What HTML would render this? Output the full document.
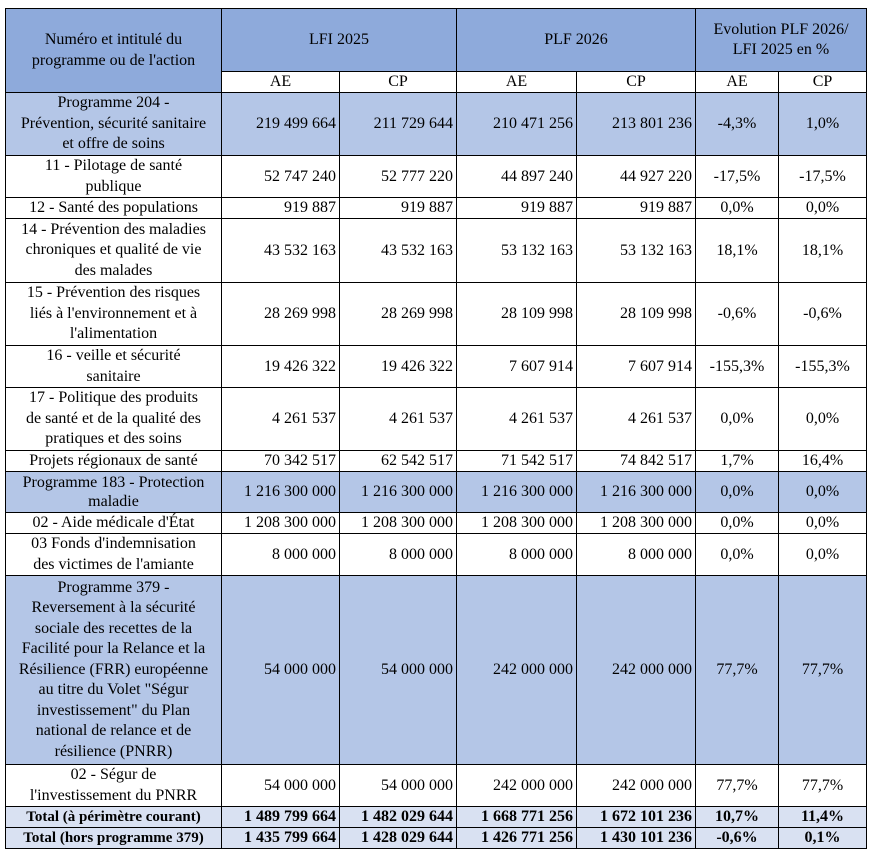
<!DOCTYPE html>
<html><head><meta charset="utf-8"><style>
body{margin:0;background:#fff;width:871px;height:850px;overflow:hidden}
table{position:absolute;left:5px;top:8px;border-collapse:collapse;table-layout:fixed;font-family:"Liberation Serif",serif;font-size:16px;color:#000}
td{border:1px solid #000;padding:0 3px;line-height:18px;overflow:hidden;white-space:nowrap}
td.l{text-align:center;padding:0 1px;line-height:20.5px}
td.n{text-align:right}
td.c{text-align:center}
.h{background:#8eaadb}
.p td{background:#b4c6e7}
.t td{background:#d9e1f2;font-weight:bold}
.t td.l{font-size:15px;line-height:18px}
tr.s td.l{line-height:18px}
</style></head><body>
<table>
<colgroup><col style="width:216px"><col style="width:118px"><col style="width:117px"><col style="width:120px"><col style="width:119px"><col style="width:83px"><col style="width:88px"></colgroup>
<tr style="height:63px"><td class="l h" rowspan="2">Numéro et intitulé du<br>programme ou de l'action</td><td class="c h" colspan="2">LFI 2025</td><td class="c h" colspan="2">PLF 2026</td><td class="l h" colspan="2">Evolution PLF 2026/<br>LFI 2025 en %</td></tr>
<tr style="height:21px"><td class="c">AE</td><td class="c">CP</td><td class="c">AE</td><td class="c">CP</td><td class="c">AE</td><td class="c">CP</td></tr>
<tr class="p" style="height:63px"><td class="l">Programme 204 -<br>Prévention, sécurité sanitaire<br>et offre de soins</td><td class="n">219 499 664</td><td class="n">211 729 644</td><td class="n">210 471 256</td><td class="n">213 801 236</td><td class="c">-4,3%</td><td class="c">1,0%</td></tr>
<tr style="height:42px"><td class="l">11 - Pilotage de santé<br>publique</td><td class="n">52 747 240</td><td class="n">52 777 220</td><td class="n">44 897 240</td><td class="n">44 927 220</td><td class="c">-17,5%</td><td class="c">-17,5%</td></tr>
<tr class="s" style="height:21px"><td class="l">12 - Santé des populations</td><td class="n">919 887</td><td class="n">919 887</td><td class="n">919 887</td><td class="n">919 887</td><td class="c">0,0%</td><td class="c">0,0%</td></tr>
<tr style="height:64px"><td class="l">14 - Prévention des maladies<br>chroniques et qualité de vie<br>des malades</td><td class="n">43 532 163</td><td class="n">43 532 163</td><td class="n">53 132 163</td><td class="n">53 132 163</td><td class="c">18,1%</td><td class="c">18,1%</td></tr>
<tr style="height:63px"><td class="l">15 - Prévention des risques<br>liés à l'environnement et à<br>l'alimentation</td><td class="n">28 269 998</td><td class="n">28 269 998</td><td class="n">28 109 998</td><td class="n">28 109 998</td><td class="c">-0,6%</td><td class="c">-0,6%</td></tr>
<tr style="height:42px"><td class="l">16 - veille et sécurité<br>sanitaire</td><td class="n">19 426 322</td><td class="n">19 426 322</td><td class="n">7 607 914</td><td class="n">7 607 914</td><td class="c">-155,3%</td><td class="c">-155,3%</td></tr>
<tr style="height:63px"><td class="l">17 - Politique des produits<br>de santé et de la qualité des<br>pratiques et des soins</td><td class="n">4 261 537</td><td class="n">4 261 537</td><td class="n">4 261 537</td><td class="n">4 261 537</td><td class="c">0,0%</td><td class="c">0,0%</td></tr>
<tr class="s" style="height:21px"><td class="l">Projets régionaux de santé</td><td class="n">70 342 517</td><td class="n">62 542 517</td><td class="n">71 542 517</td><td class="n">74 842 517</td><td class="c">1,7%</td><td class="c">16,4%</td></tr>
<tr class="p" style="height:41px"><td class="l" style="line-height:19.5px">Programme 183 - Protection<br>maladie</td><td class="n">1 216 300 000</td><td class="n">1 216 300 000</td><td class="n">1 216 300 000</td><td class="n">1 216 300 000</td><td class="c">0,0%</td><td class="c">0,0%</td></tr>
<tr class="s" style="height:21px"><td class="l">02 - Aide médicale d'État</td><td class="n">1 208 300 000</td><td class="n">1 208 300 000</td><td class="n">1 208 300 000</td><td class="n">1 208 300 000</td><td class="c">0,0%</td><td class="c">0,0%</td></tr>
<tr style="height:42px"><td class="l">03 Fonds d'indemnisation<br>des victimes de l'amiante</td><td class="n">8 000 000</td><td class="n">8 000 000</td><td class="n">8 000 000</td><td class="n">8 000 000</td><td class="c">0,0%</td><td class="c">0,0%</td></tr>
<tr class="p" style="height:189px"><td class="l">Programme 379 -<br>Reversement à la sécurité<br>sociale des recettes de la<br>Facilité pour la Relance et la<br>Résilience (FRR) européenne<br>au titre du Volet "Ségur<br>investissement" du Plan<br>national de relance et de<br>résilience (PNRR)</td><td class="n">54 000 000</td><td class="n">54 000 000</td><td class="n">242 000 000</td><td class="n">242 000 000</td><td class="c">77,7%</td><td class="c">77,7%</td></tr>
<tr style="height:42px"><td class="l">02 - Ségur de<br>l'investissement du PNRR</td><td class="n">54 000 000</td><td class="n">54 000 000</td><td class="n">242 000 000</td><td class="n">242 000 000</td><td class="c">77,7%</td><td class="c">77,7%</td></tr>
<tr class="t" style="height:21px"><td class="l">Total (à périmètre courant)</td><td class="n">1 489 799 664</td><td class="n">1 482 029 644</td><td class="n">1 668 771 256</td><td class="n">1 672 101 236</td><td class="c">10,7%</td><td class="c">11,4%</td></tr>
<tr class="t" style="height:21px"><td class="l">Total (hors programme 379)</td><td class="n">1 435 799 664</td><td class="n">1 428 029 644</td><td class="n">1 426 771 256</td><td class="n">1 430 101 236</td><td class="c">-0,6%</td><td class="c">0,1%</td></tr>
</table>
</body></html>
